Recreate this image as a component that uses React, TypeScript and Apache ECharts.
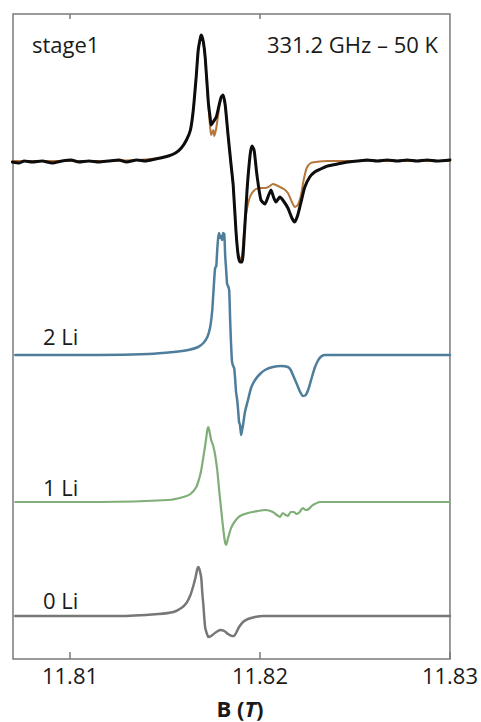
import { useEffect, useRef } from "react";
import * as echarts from "echarts";

// Field axis (tesla)
const fieldMin = 11.807;
const fieldMax = 11.83;
const fieldTicks = [11.81, 11.82, 11.83];
const topTicks = [11.81, 11.82];

// Baseline offsets of the stacked spectra (arbitrary intensity units)
const baseStage1 = 498;
const base2Li = 304;
const base1Li = 157;
const base0Li = 43;

// stage1: measured derivative spectrum [B (T), intensity]
const stage1Measured: [number, number][] = [
  [11.80696, -1], [11.80733, -2], [11.80759, 0], [11.80801, -1], [11.80853, 0], [11.80906, -2],
  [11.80958, 0], [11.81005, 1], [11.81047, -1], [11.81099, 0], [11.81152, -1], [11.81204, 0],
  [11.81257, 1], [11.81298, -1], [11.81351, 1], [11.81398, 0], [11.8145, 2], [11.81476, 3],
  [11.81518, 5], [11.81555, 8], [11.81586, 13], [11.81613, 21], [11.81634, 31], [11.81649, 51],
  [11.81665, 86], [11.81675, 111], [11.81686, 123], [11.81691, 126], [11.81702, 119], [11.81712, 103],
  [11.81728, 59], [11.81738, 43], [11.81743, 36], [11.81754, 39], [11.8177, 44], [11.81785, 56],
  [11.81796, 64], [11.81806, 66], [11.81817, 56], [11.81832, 26], [11.81848, -4], [11.81859, -24],
  [11.81874, -71], [11.81885, -94], [11.81895, -101], [11.81906, -101], [11.81916, -79], [11.81932, -29],
  [11.81948, 6], [11.81958, 15], [11.81969, 11], [11.81984, -14], [11.82005, -39], [11.82026, -43],
  [11.82042, -36], [11.82058, -29], [11.82073, -37], [11.82084, -41], [11.82105, -36], [11.8212, -39],
  [11.82147, -47], [11.82168, -57], [11.82183, -61], [11.82199, -54], [11.82215, -42], [11.82236, -26],
  [11.82262, -16], [11.82288, -11], [11.82319, -8], [11.82356, -5], [11.82408, -3], [11.82461, -1],
  [11.82513, 0], [11.82565, 1], [11.82618, 0], [11.8267, 1], [11.82723, 0], [11.82775, 1],
  [11.82827, 0], [11.8288, 1], [11.82932, 0], [11.83, 1],
];

// stage1: simulated spectrum
const stage1Fit: [number, number][] = [
  [11.80696, 0], [11.81152, 0], [11.81361, 1], [11.81466, 3], [11.81518, 5], [11.81555, 8],
  [11.81586, 13], [11.81613, 21], [11.81634, 31], [11.81649, 51], [11.81665, 86], [11.81675, 111],
  [11.81686, 123], [11.81691, 125], [11.81702, 118], [11.81712, 101], [11.81728, 56], [11.81738, 33],
  [11.81743, 26], [11.81754, 31], [11.81759, 25], [11.8177, 33], [11.81785, 53], [11.81796, 63],
  [11.81806, 65], [11.81817, 55], [11.81832, 25], [11.81848, -5], [11.81859, -25], [11.81874, -71],
  [11.81885, -93], [11.81895, -99], [11.81906, -94], [11.81916, -71], [11.81927, -53], [11.81942, -39],
  [11.81958, -32], [11.81979, -28], [11.82005, -27], [11.82031, -27], [11.82052, -25], [11.82068, -23],
  [11.82084, -24], [11.82105, -26], [11.82126, -28], [11.82147, -32], [11.82168, -41], [11.82183, -46],
  [11.82199, -44], [11.82215, -35], [11.8223, -19], [11.82246, -7], [11.82267, -2], [11.82293, -1],
  [11.82356, 0], [11.83, 0],
];

// 2 Li component
const twoLi: [number, number][] = [
  [11.80712, 0], [11.81152, 0], [11.81414, 1], [11.81545, 3], [11.81623, 5], [11.81675, 8],
  [11.81702, 12], [11.81723, 18], [11.81738, 28], [11.81749, 45], [11.81754, 60], [11.81759, 75],
  [11.81764, 87], [11.8177, 89], [11.81775, 105], [11.8178, 117], [11.81785, 122], [11.81791, 117],
  [11.81796, 119], [11.81801, 115], [11.81806, 122], [11.81812, 121], [11.81817, 99], [11.81822, 85],
  [11.81827, 71], [11.81832, 69], [11.81838, 65], [11.81843, 35], [11.81848, 10], [11.81853, -7],
  [11.81859, -11], [11.81864, -13], [11.81869, -23], [11.81874, -37], [11.8188, -45], [11.81885, -55],
  [11.8189, -67], [11.81895, -70], [11.81901, -80], [11.81906, -75], [11.81911, -70], [11.81921, -57],
  [11.81937, -45], [11.81953, -33], [11.81974, -25], [11.82, -19], [11.82026, -15], [11.82068, -12],
  [11.8211, -11], [11.82147, -12], [11.82162, -15], [11.82178, -22], [11.82194, -29], [11.82209, -36],
  [11.82225, -41], [11.82241, -40], [11.82257, -33], [11.82272, -23], [11.82288, -13], [11.82304, -6],
  [11.82319, -2], [11.8234, 0], [11.83, 0],
];

// 1 Li component
const oneLi: [number, number][] = [
  [11.80712, 0], [11.81152, 0], [11.81518, 2], [11.81597, 5], [11.81634, 8], [11.81665, 15],
  [11.81681, 24], [11.81691, 32], [11.81702, 45], [11.81712, 57], [11.81723, 72], [11.81728, 75],
  [11.81733, 72], [11.81743, 62], [11.81754, 56], [11.81764, 47], [11.81775, 32], [11.81785, 12],
  [11.81796, -8], [11.81806, -26], [11.81812, -35], [11.81817, -41], [11.81822, -43], [11.81832, -36],
  [11.81848, -26], [11.81869, -19], [11.81895, -14], [11.81937, -11], [11.8199, -9], [11.82031, -8],
  [11.82068, -10], [11.82089, -13], [11.82105, -15], [11.8212, -11], [11.82136, -13], [11.82147, -14],
  [11.82162, -10], [11.82178, -10], [11.82194, -12], [11.82209, -10], [11.82225, -6], [11.82241, -8],
  [11.82257, -7], [11.82272, -4], [11.82288, -2], [11.82314, 0], [11.83, 0],
];

// 0 Li component
const zeroLi: [number, number][] = [
  [11.80712, 0], [11.81257, 0], [11.81466, 2], [11.81545, 4], [11.81586, 8], [11.81613, 13],
  [11.81634, 21], [11.81649, 30], [11.8166, 38], [11.8167, 47], [11.81675, 49], [11.81681, 47],
  [11.81691, 38], [11.81696, 24], [11.81702, 11], [11.81707, -2], [11.81712, -12], [11.81723, -19],
  [11.81728, -21], [11.81743, -20], [11.8177, -16], [11.81791, -14], [11.81812, -15], [11.81832, -18],
  [11.81853, -20], [11.81864, -20], [11.81874, -17], [11.8189, -11], [11.81911, -6], [11.81937, -3],
  [11.81974, -1], [11.82016, 0], [11.83, 0],
];

const FONT = "'Open Sans', 'Noto Sans', sans-serif";
const TEXT = "#1a1a1a";
const FRAME = "#7a7a7a";

const shift = (pts: [number, number][], base: number) => pts.map(([b, v]) => [b, v + base]);

const lineSeries = (name: string, data: number[][], color: string, width: number) => ({
  name,
  type: "line" as const,
  data,
  showSymbol: false,
  smooth: 0.2,
  lineStyle: { color, width, cap: "round" as const, join: "round" as const },
  emphasis: { disabled: true },
});

const label = (text: string, x: number, y: number) => ({
  type: "text" as const,
  x,
  y,
  style: { text, font: `22px ${FONT}`, fill: TEXT, textVerticalAlign: "middle" },
});

export default function App() {
  const ref = useRef<HTMLDivElement>(null);

  useEffect(() => {
    document.body.style.margin = "0";
    if (!ref.current) return;
    const chart = echarts.init(ref.current, undefined, { renderer: "svg" });
    chart.setOption({
      animation: false,
      grid: {
        left: 13,
        right: 28,
        top: 14,
        bottom: 63,
        show: true,
        borderColor: FRAME,
        borderWidth: 1.5,
        backgroundColor: "transparent",
      },
      xAxis: [
        {
          type: "value",
          min: fieldMin,
          max: fieldMax,
          position: "bottom",
          axisLine: { show: false },
          splitLine: { show: false },
          axisTick: {
            show: true,
            inside: true,
            length: 7,
            customValues: fieldTicks,
            lineStyle: { color: FRAME, width: 1.5 },
          },
          axisLabel: {
            show: true,
            customValues: fieldTicks,
            margin: 5,
            fontFamily: FONT,
            fontSize: 22,
            color: TEXT,
            formatter: (v: number) => v.toFixed(2),
          },
        },
        {
          type: "value",
          min: fieldMin,
          max: fieldMax,
          position: "top",
          axisLine: { show: false },
          splitLine: { show: false },
          axisLabel: { show: false },
          axisTick: {
            show: true,
            inside: true,
            length: 5,
            customValues: topTicks,
            lineStyle: { color: FRAME, width: 1.5 },
          },
        },
      ],
      yAxis: {
        type: "value",
        min: 0,
        max: 645,
        show: false,
        splitLine: { show: false },
      },
      series: [
        lineSeries("stage1 fit", shift(stage1Fit, baseStage1), "#b5773b", 2),
        lineSeries("stage1", shift(stage1Measured, baseStage1), "#0d0d0d", 3),
        lineSeries("2 Li", shift(twoLi, base2Li), "#4f7d9c", 2.5),
        lineSeries("1 Li", shift(oneLi, base1Li), "#7fae77", 2.2),
        lineSeries("0 Li", shift(zeroLi, base0Li), "#777777", 2.5),
      ],
      graphic: [
        label("stage1", 32, 44),
        {
          type: "text",
          x: 438,
          y: 44,
          style: {
            text: "331.2 GHz – 50 K",
            font: `22px ${FONT}`,
            fill: TEXT,
            textAlign: "right",
            textVerticalAlign: "middle",
          },
        },
        label("2 Li", 43, 336),
        label("1 Li", 43, 487),
        label("0 Li", 43, 600),
        {
          type: "text",
          x: 240,
          y: 708,
          style: {
            text: "{b|B (}{i|T}{b|)}",
            textAlign: "center",
            textVerticalAlign: "middle",
            rich: {
              b: { fontFamily: FONT, fontSize: 22, fontWeight: "bold", fill: TEXT },
              i: { fontFamily: FONT, fontSize: 22, fontWeight: "bold", fontStyle: "italic", fill: TEXT },
            },
          },
        },
      ],
    });
    return () => chart.dispose();
  }, []);

  return <div ref={ref} style={{ width: 481, height: 722 }} />;
}
